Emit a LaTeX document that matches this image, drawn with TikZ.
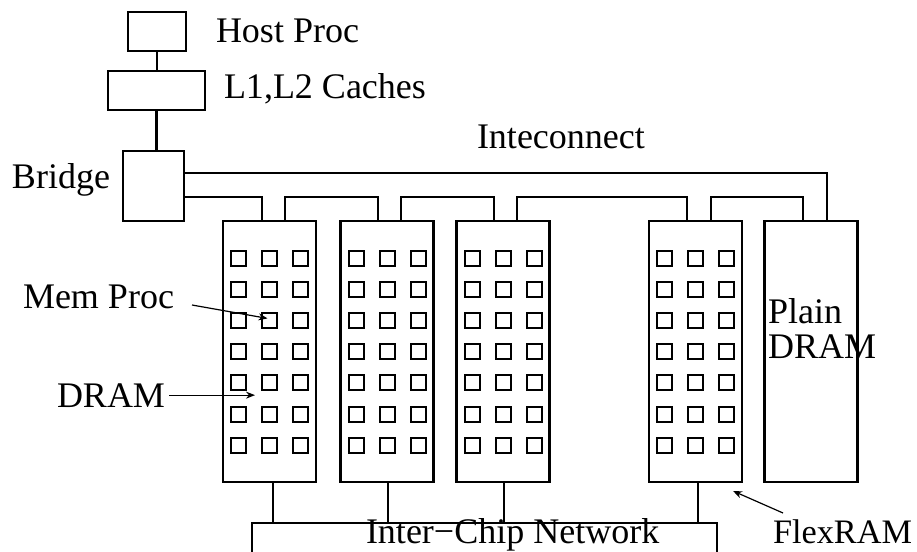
\documentclass[tikz,border=0pt]{standalone}
\usepackage{fontspec}
\setmainfont{Liberation Serif}
\usetikzlibrary{arrows.meta,calc}
\begin{document}
\begin{tikzpicture}[x=1pt,y=-1pt,
  every node/.style={inner sep=0pt,outer sep=0pt},
  box/.style={draw,line width=2.2pt,rectangle},
  sq/.style={draw,line width=2pt,rectangle,minimum size=15pt},
  lbl/.style={anchor=base west,font=\fontsize{36}{40}\selectfont},
  wire/.style={line width=2.2pt},
  ptr/.style={line width=1.2pt,-{Stealth[length=9pt,width=7pt]}}]
\clip (0,0) rectangle (917,551);
\fill[white] (0,0) rectangle (917,551);
% host side
\node[box,minimum width=58pt,minimum height=39pt] (host) at (157,31.5) {};
\node[box,minimum width=97pt,minimum height=39pt] (l1) at (156.5,90.5) {};
\node[box,minimum width=61pt,minimum height=70pt] (bridge) at (153.5,186) {};
\node[lbl] (hostl) at (216,42) {Host Proc};
\node[lbl] (l1l) at (224,98) {L1,L2 Caches};
\node[lbl] (bridgel) at (12,188) {Bridge};
\node[lbl] (icl) at (477,148) {Inteconnect};
\draw[wire] (host.south) -- (host.south |- l1.north);
\draw[wire] (l1.south) -- (l1.south |- bridge.north);
% chips
\foreach \cx [count=\c] in {269.5,387,503,695.5} {
  \node[box,minimum width=93pt,minimum height=261pt] (chip\c) at (\cx,351.5) {};
  \foreach \i in {0,...,6} {
    \foreach \j in {1,2,3} {
      \node[sq] (sq-\c-\i-\j) at ({\cx+31*(\j-2)},{258+31.2*\i}) {};
    }
  }
}
\node[box,minimum width=93pt,minimum height=261pt] (plain) at (811,351.5) {};
\node[lbl] (plainl1) at (768,323) {Plain};
\node[lbl] (plainl2) at (768,358) {DRAM};
% interconnect
\coordinate (bus) at (0,197);
\coordinate (ubus) at (0,173);
\draw[wire] (bridge.east |- ubus) -| ([xshift=16pt]plain.north);
\draw[wire] (bridge.east |- bus) -| ([xshift=-7.5pt]chip1.north);
\draw[wire] ([xshift=15.5pt]chip1.north) -- ++(0,-24) -| ([xshift=-9pt]chip2.north);
\draw[wire] ([xshift=14pt]chip2.north) -- ++(0,-24) -| ([xshift=-9pt]chip3.north);
\draw[wire] ([xshift=14pt]chip3.north) -- ++(0,-24) -| ([xshift=-8.5pt]chip4.north);
\draw[wire] ([xshift=15.5pt]chip4.north) -- ++(0,-24) -| ([xshift=-8pt]plain.north);
% inter-chip network
\node[box,minimum width=465pt,minimum height=60pt] (net) at (484.5,553) {};
\node[lbl] (netl) at (366,543) {Inter−Chip Network};
\draw[wire] ([xshift=3.5pt]chip1.south) -- ([xshift=3.5pt]chip1.south |- net.north);
\draw[wire] ([xshift=1pt]chip2.south) -- ([xshift=1pt]chip2.south |- net.north);
\draw[wire] ([xshift=1pt]chip3.south) -- ([xshift=1pt]chip3.south |- net.north);
\draw[wire] ([xshift=2.5pt]chip4.south) -- ([xshift=2.5pt]chip4.south |- net.north);
% labels with pointers
\node[lbl] (memproc) at (23,308) {Mem Proc};
\node[lbl] (dram) at (57,407) {DRAM};
\node[lbl,font=\fontsize{34.3}{40}\selectfont] (flex) at (773,543) {FlexRAM};
\coordinate (mpstart) at (192,305);
\coordinate (drtip) at (255,398);
\coordinate (flstart) at (783,513);
\coordinate (fltip) at (733,491);
\draw[ptr] (mpstart) -- ([xshift=-2pt,yshift=2pt]sq-1-2-2.center);
\draw[ptr] ([xshift=4pt]dram.east) -- (dram.east -| drtip);
\draw[ptr] (flstart) -- (fltip);
\end{tikzpicture}
\end{document}
